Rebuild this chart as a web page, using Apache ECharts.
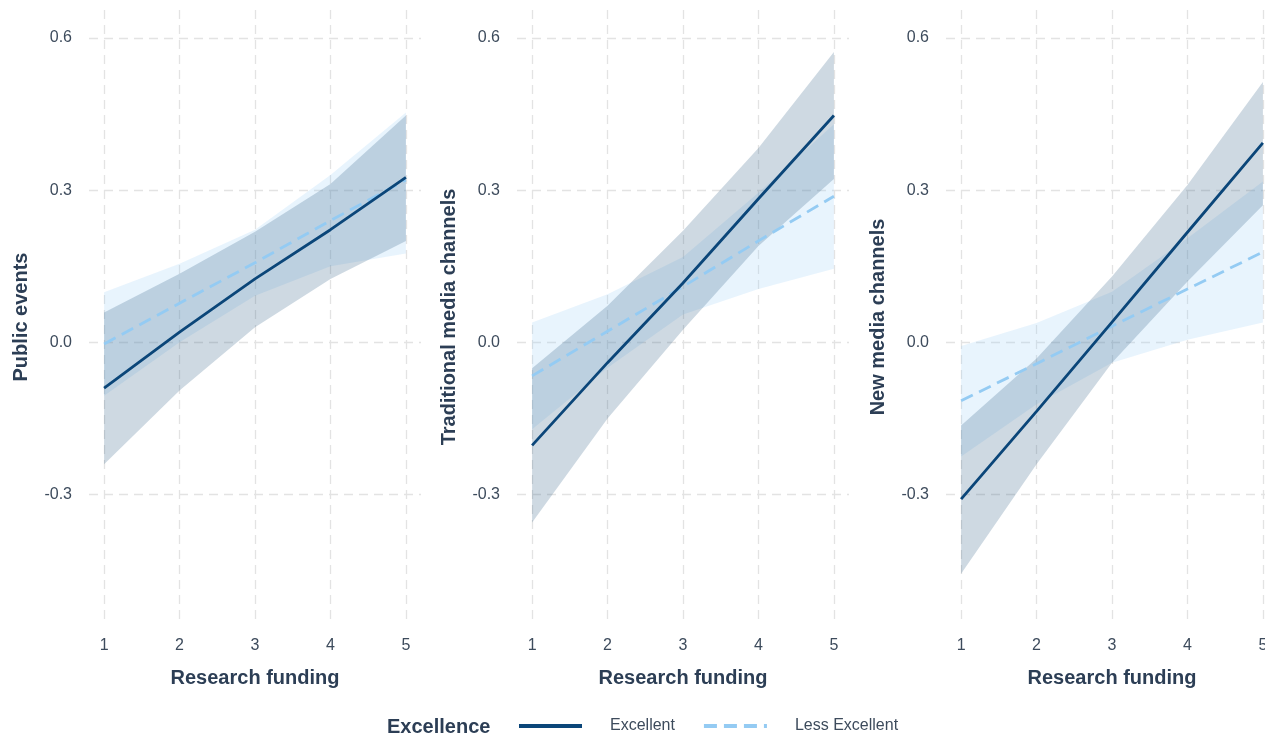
<!DOCTYPE html>
<html>
<head>
<meta charset="utf-8">
<script src="https://cdn.jsdelivr.net/npm/echarts@6/dist/echarts.min.js"></script>
<style>html,body{margin:0;padding:0;background:#fff;overflow:hidden}#c{width:1300px;height:735px}</style>
</head>
<body>
<div id="c"></div>
<script>
// ---- data ----
const xs = [1, 2, 3, 4, 5];
const xTicks = [1, 2, 3, 4, 5];
const yTicks = [-0.3, 0.0, 0.3, 0.6];
const panelTitles = ['Public events', 'Traditional media channels', 'New media channels'];
const xTitle = 'Research funding';
const groupNames = ['Excellent', 'Less Excellent'];
const legendTitle = 'Excellence';

// Public events
const peExcFit  = [-0.090, 0.020, 0.125, 0.222, 0.325];
const peExcLo   = [-0.240, -0.095, 0.030, 0.125, 0.200];
const peExcHi   = [0.059, 0.135, 0.218, 0.312, 0.447];
const peLessFit = [-0.003, 0.077, 0.157, 0.240, 0.320];
const peLessLo  = [-0.105, 0.000, 0.092, 0.150, 0.175];
const peLessHi  = [0.099, 0.155, 0.222, 0.330, 0.453];

// Traditional media channels
const tmExcFit  = [-0.203, -0.040, 0.117, 0.283, 0.447];
const tmExcLo   = [-0.355, -0.150, 0.025, 0.190, 0.322];
const tmExcHi   = [-0.051, 0.072, 0.220, 0.383, 0.572];
const tmLessFit = [-0.066, 0.022, 0.110, 0.200, 0.288];
const tmLessLo  = [-0.171, -0.050, 0.055, 0.105, 0.145];
const tmLessHi  = [0.039, 0.095, 0.168, 0.295, 0.430];

// New media channels
const nmExcFit  = [-0.309, -0.136, 0.040, 0.217, 0.393];
const nmExcLo   = [-0.456, -0.240, -0.040, 0.120, 0.270];
const nmExcHi   = [-0.164, -0.032, 0.130, 0.310, 0.513];
const nmLessFit = [-0.115, -0.042, 0.032, 0.105, 0.178];
const nmLessLo  = [-0.225, -0.122, -0.040, 0.005, 0.039];
const nmLessHi  = [-0.007, 0.038, 0.100, 0.205, 0.317];

const panels = [
  {exc: [peExcFit, peExcLo, peExcHi], less: [peLessFit, peLessLo, peLessHi]},
  {exc: [tmExcFit, tmExcLo, tmExcHi], less: [tmLessFit, tmLessLo, tmLessHi]},
  {exc: [nmExcFit, nmExcLo, nmExcHi], less: [nmLessFit, nmLessLo, nmLessHi]}
];

// ---- styles ----
const FONT = 'Liberation Sans, Arial, sans-serif';
const excColor = '#0b4679';
const lessColor = '#94cbf3';
const excFill = 'rgba(30,80,125,0.22)';
const lessFill = 'rgba(150,205,245,0.22)';
const gridColor = '#e3e3e3';
const tickColor = '#3d4b5c';
const titleColor = '#2c3e55';

const gridLefts = [89, 517, 946];
const grids = gridLefts.map(l => ({left: l, width: 332, top: 10, height: 614, containLabel: false}));

const xAxes = grids.map((g, i) => ({
  type: 'value', gridIndex: i, min: 0.8, max: 5.2,
  name: xTitle, nameLocation: 'middle', nameGap: 44,
  nameTextStyle: {fontFamily: FONT, fontSize: 20, fontWeight: 'bold', color: titleColor},
  axisLine: {show: false},
  axisTick: {show: false, customValues: xTicks},
  axisLabel: {customValues: xTicks, fontFamily: FONT, fontSize: 16, color: tickColor, margin: 14,
              formatter: v => String(v)},
  splitLine: {show: true, lineStyle: {color: gridColor, width: 1.3, type: [9, 6]}}
}));

const yAxes = grids.map((g, i) => ({
  type: 'value', gridIndex: i, min: -0.555, max: 0.655,
  name: panelTitles[i], nameLocation: 'middle', nameGap: 58, nameRotate: 90,
  nameTextStyle: {fontFamily: FONT, fontSize: 20, fontWeight: 'bold', color: titleColor},
  axisLine: {show: false},
  axisTick: {show: false, customValues: yTicks},
  axisLabel: {customValues: yTicks, fontFamily: FONT, fontSize: 16, color: tickColor, margin: 17,
              formatter: v => v.toFixed(1)},
  splitLine: {show: true, lineStyle: {color: gridColor, width: 1.3, type: [9, 6]}}
}));

function ribbon(i, lo, hi, fill, z) {
  return {
    type: 'custom', xAxisIndex: i, yAxisIndex: i, z: z, silent: true,
    data: xs.map((x, k) => [x, lo[k], hi[k]]),
    renderItem: function (params, api) {
      if (params.dataIndex !== 0) return null;
      const pts = [];
      for (let k = 0; k < xs.length; k++) pts.push(api.coord([xs[k], hi[k]]));
      for (let k = xs.length - 1; k >= 0; k--) pts.push(api.coord([xs[k], lo[k]]));
      return {type: 'polygon', shape: {points: pts}, style: {fill: fill}};
    }
  };
}

const series = [];
panels.forEach((p, i) => {
  series.push(ribbon(i, p.less[1], p.less[2], lessFill, 1));
  series.push(ribbon(i, p.exc[1], p.exc[2], excFill, 2));
  series.push({
    name: groupNames[1], type: 'line', xAxisIndex: i, yAxisIndex: i, z: 4,
    data: xs.map((x, k) => [x, p.less[0][k]]),
    symbol: 'none', smooth: false,
    lineStyle: {color: lessColor, width: 2.8, type: [13, 7]},
    itemStyle: {color: lessColor}
  });
  series.push({
    name: groupNames[0], type: 'line', xAxisIndex: i, yAxisIndex: i, z: 5,
    data: xs.map((x, k) => [x, p.exc[0][k]]),
    symbol: 'none', smooth: false,
    lineStyle: {color: excColor, width: 2.8},
    itemStyle: {color: excColor}
  });
});

const chart = echarts.init(document.getElementById('c'), null, {renderer: 'canvas'});
chart.setOption({
  animation: false,
  backgroundColor: '#ffffff',
  title: {text: legendTitle, left: 382, top: 712,
          textStyle: {fontFamily: FONT, fontSize: 20, fontWeight: 'bold', color: titleColor}},
  legend: {
    data: groupNames, left: 512, top: 713, itemWidth: 63, itemHeight: 14, itemGap: 27,
    itemStyle: {opacity: 0},
    lineStyle: {width: 4},
    textStyle: {fontFamily: FONT, fontSize: 16, color: tickColor, padding: [0, 0, 0, 23]}
  },
  grid: grids, xAxis: xAxes, yAxis: yAxes, series: series
});
</script>
</body>
</html>
